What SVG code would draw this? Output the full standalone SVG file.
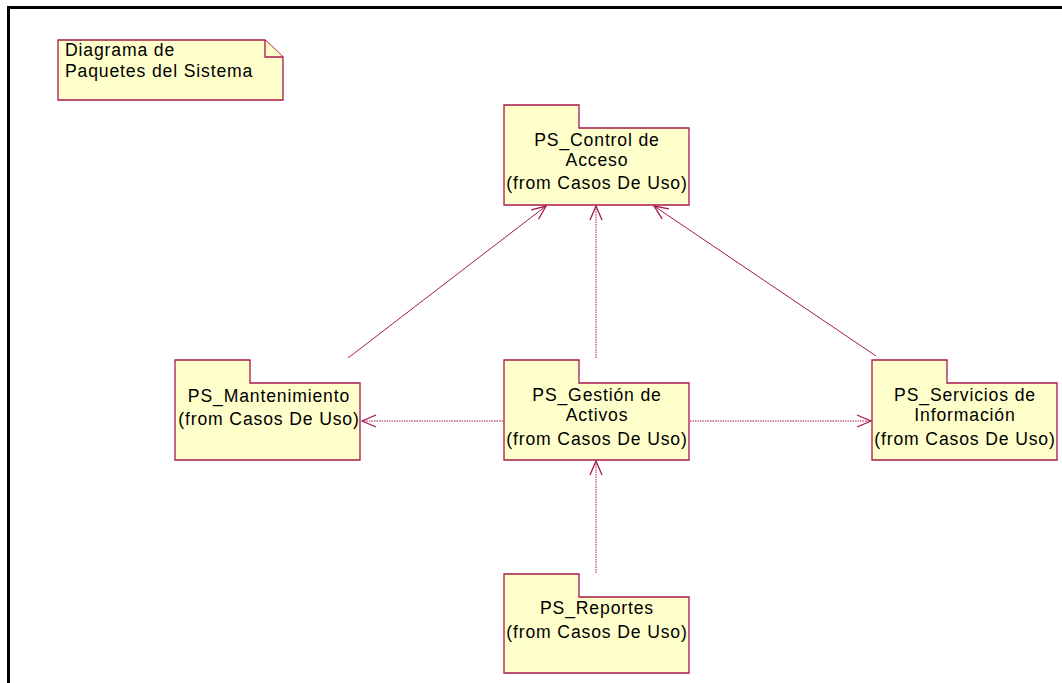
<svg xmlns="http://www.w3.org/2000/svg" width="1062" height="683" viewBox="0 0 1062 683">
  <style>
    .frame { fill: none; stroke: #000; stroke-width: 3; }
    .pkg { fill: #FFFFCC; stroke: #A8184A; stroke-width: 1.3; }
    .note { fill: #FFFFCC; stroke: #A8184A; stroke-width: 1.3; }
    .lbl { font-family: "Liberation Sans", Arial, sans-serif; font-size: 17.6px; letter-spacing: 0.85px; fill: #000; }
    .mid { text-anchor: middle; }
    .dep { fill: none; stroke: #A8184A; stroke-width: 1; stroke-dasharray: 1.5 1; }
    .dep-solid { fill: none; stroke: #A8184A; stroke-width: 1; }
  </style>
  <defs>
    <marker id="open" viewBox="0 0 16 14" refX="15" refY="7" markerWidth="16" markerHeight="14" markerUnits="userSpaceOnUse" orient="auto">
      <path d="M1,1 L15,7 L1,13" fill="none" stroke="#A8184A" stroke-width="1.3"/>
    </marker>
  </defs>

  <rect width="1062" height="683" fill="#fff"/>
  <!-- outer frame -->
  <path class="frame" d="M8.5,690 L8.5,7.5 L1070,7.5"/>

  <!-- note -->
  <g id="note">
    <path class="note" d="M58,40 L265,40 L283,57 L283,100 L58,100 Z"/>
    <path class="note" d="M265,40 L265,57 L283,57" fill="none"/>
    <text class="lbl" x="65" y="56">Diagrama de</text>
    <text class="lbl" x="65" y="77">Paquetes del Sistema</text>
  </g>

  <!-- connectors -->
  <g id="connectors">
    <line class="dep-solid" x1="348" y1="358" x2="546" y2="206" marker-end="url(#open)"/>
    <line class="dep" x1="596" y1="358" x2="596" y2="206" marker-end="url(#open)"/>
    <line class="dep-solid" x1="876" y1="356" x2="654" y2="206" marker-end="url(#open)"/>
    <line class="dep" x1="503" y1="421" x2="362" y2="421" marker-end="url(#open)"/>
    <line class="dep" x1="690" y1="421" x2="871" y2="421" marker-end="url(#open)"/>
    <line class="dep" x1="596" y1="573" x2="596" y2="461" marker-end="url(#open)"/>
  </g>

  <!-- packages -->
  <g id="ps-control-acceso">
    <path class="pkg" d="M504,105 L579,105 L579,128 L689,128 L689,205 L504,205 Z"/>
    <text class="lbl mid" x="597" y="146">PS_Control de</text>
    <text class="lbl mid" x="597" y="166">Acceso</text>
    <text class="lbl mid" x="597" y="189">(from Casos De Uso)</text>
  </g>

  <g id="ps-mantenimiento">
    <path class="pkg" d="M175,360 L250,360 L250,383 L360,383 L360,460 L175,460 Z"/>
    <text class="lbl mid" x="269" y="402">PS_Mantenimiento</text>
    <text class="lbl mid" x="269" y="425">(from Casos De Uso)</text>
  </g>

  <g id="ps-gestion-activos">
    <path class="pkg" d="M504,360 L579,360 L579,383 L689,383 L689,460 L504,460 Z"/>
    <text class="lbl mid" x="597" y="401">PS_Gestión de</text>
    <text class="lbl mid" x="597" y="421">Activos</text>
    <text class="lbl mid" x="597" y="445">(from Casos De Uso)</text>
  </g>

  <g id="ps-servicios-informacion">
    <path class="pkg" d="M872,360 L947,360 L947,383 L1057,383 L1057,460 L872,460 Z"/>
    <text class="lbl mid" x="965" y="401">PS_Servicios de</text>
    <text class="lbl mid" x="965" y="421">Información</text>
    <text class="lbl mid" x="965" y="445">(from Casos De Uso)</text>
  </g>

  <g id="ps-reportes">
    <path class="pkg" d="M504,574 L579,574 L579,597 L689,597 L689,673 L504,673 Z"/>
    <text class="lbl mid" x="597" y="614">PS_Reportes</text>
    <text class="lbl mid" x="597" y="638">(from Casos De Uso)</text>
  </g>
</svg>
